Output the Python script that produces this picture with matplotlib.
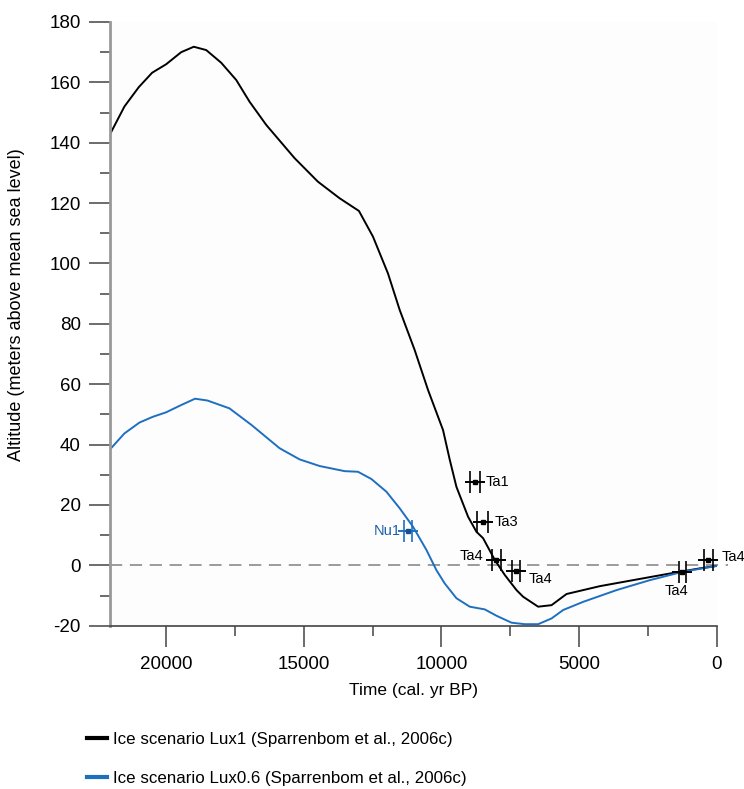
import matplotlib.pyplot as plt
from matplotlib.lines import Line2D
from matplotlib.ticker import MultipleLocator

plt.rcParams['font.family'] = ['Liberation Sans', 'DejaVu Sans']
plt.rcParams['axes.unicode_minus'] = False

# Ice scenario Lux1 (black)
lux1_t = [22040, 21516, 20996, 20509, 20000, 19455, 18996, 18545, 18000, 17455,
          16971, 16364, 15335, 14487, 13698, 12996, 12487, 11942, 11516, 10971,
          10487, 9941, 9698, 9455, 9032, 8727, 8487, 8062, 7698, 7273, 7033,
          6487, 6000, 5455, 4244, 3033, 1818, 607, 0]
lux1_h = [142.8, 152.0, 158.4, 163.2, 166.0, 170.0, 171.8, 170.7, 166.5, 160.8,
          153.6, 145.9, 134.9, 127.1, 121.6, 117.4, 108.9, 96.7, 84.6, 71.3,
          58.1, 44.8, 35.0, 26.0, 16.1, 11.1, 9.0, 1.8, -3.2, -8.2, -10.4,
          -13.7, -13.2, -9.5, -6.9, -4.9, -2.9, -1.0, -0.2]

# Ice scenario Lux0.6 (blue)
lux06_t = [22040, 21516, 20970, 20485, 20000, 19455, 18950, 18500, 17700, 16900,
           15880, 15153, 14425, 13516, 13033, 12545, 12000, 11516, 11033, 10545,
           10182, 9880, 9455, 8971, 8425, 8000, 7455, 6971, 6487, 6000, 5578,
           4851, 3636, 2425, 1215, 0]
lux06_h = [38.4, 43.7, 47.3, 49.2, 50.7, 53.1, 55.2, 54.6, 52.0, 46.5,
           38.8, 35.1, 32.9, 31.2, 31.0, 28.6, 24.4, 18.9, 12.8, 5.1,
           -1.6, -6.0, -10.9, -13.7, -14.6, -16.7, -19.0, -19.5, -19.5, -17.6, -14.8,
           -12.1, -8.2, -4.9, -2.1, -0.2]

# dated samples (age, altitude, age error)
ta_t = [8780, 8500, 8000, 7300, 1250, 305]
ta_h = [27.7, 14.2, 1.8, -1.9, -2.1, 1.8]
ta_err = [190, 200, 150, 150, 130, 160]
ta_lab = ['Ta1', 'Ta3', 'Ta4', 'Ta4', 'Ta4', 'Ta4']
ta_lab_xy = [(8389, 27.7, 'left'), (8062, 14.2, 'left'), (8498, 3.2, 'right'),
             (6825, -4.5, 'left'), (1480, -8.5, 'center'), (-182, 2.8, 'left')]

nu_t = [11215]
nu_h = [11.5]
nu_err = [150]

blue = '#1f6fc1'

fig = plt.figure(figsize=(7.44, 7.89), dpi=100)
ax = fig.add_axes([110 / 744, 1 - 625.7 / 789, (716.7 - 110) / 744, (625.7 - 22) / 789])

ax.plot([22040, -400], [0, 0], color='#808080', lw=1.1, dashes=(8, 5), clip_on=False)
l1, = ax.plot(lux1_t, lux1_h, color='black', lw=1.4)
l2, = ax.plot(lux06_t, lux06_h, color=blue, lw=1.4)

ax.errorbar(ta_t, ta_h, xerr=ta_err, fmt='none', ecolor='black', elinewidth=1.2,
            capsize=8, capthick=1.2)
ax.plot(ta_t, ta_h, ls='none', marker='_', ms=14, mew=1.4, color='black')
ax.plot(ta_t, ta_h, ls='none', marker='s', ms=3, color='black')
for (x, y, ha), lab in zip(ta_lab_xy, ta_lab):
    ax.text(x, y, lab, ha=ha, va='center', fontsize=10.5, color='black', clip_on=False)

ax.errorbar(nu_t, nu_h, xerr=nu_err, fmt='none', ecolor=blue, elinewidth=1.2,
            capsize=8, capthick=1.2)
ax.plot(nu_t, nu_h, ls='none', marker='_', ms=14, mew=1.4, color=blue)
ax.plot(nu_t, nu_h, ls='none', marker='s', ms=3, color='#174f8c')
ax.text(11491, 11.5, 'Nu1', ha='right', va='center', fontsize=10.5, color='#1f5fa8')

ax.set_xlim(22040, 0)
ax.set_ylim(-20, 180)
ax.xaxis.set_major_locator(MultipleLocator(5000))
ax.xaxis.set_minor_locator(MultipleLocator(2500))
ax.yaxis.set_major_locator(MultipleLocator(20))
ax.yaxis.set_minor_locator(MultipleLocator(10))

for s in ['top', 'right']:
    ax.spines[s].set_visible(False)
ax.spines['left'].set_color('#999999')
ax.spines['left'].set_linewidth(2)
ax.spines['bottom'].set_color('#444444')
ax.spines['bottom'].set_linewidth(1.2)
ax.tick_params(which='major', length=15, width=1.1, color='#444444', labelsize=13.5)
ax.tick_params(which='minor', length=7.5, width=1.1, color='#444444')
ax.tick_params(axis='x', which='major', pad=7)
ax.tick_params(axis='y', which='major', pad=6)
ax.set_facecolor('#fdfdfd')

ax.set_xlabel('Time (cal. yr BP)', fontsize=12.5, labelpad=7)
fig.text(17 / 744, 1 - 305 / 789, 'Altitude (meters above mean sea level)',
         rotation=90, ha='center', va='center', fontsize=13)

h1 = Line2D([], [], color='black', lw=3)
h2 = Line2D([], [], color=blue, lw=3)
fig.legend([h1, h2], ['Ice scenario Lux1 (Sparrenbom et al., 2006c)',
                      'Ice scenario Lux0.6 (Sparrenbom et al., 2006c)'],
           loc='upper left', bbox_to_anchor=(87 / 744, 1 - 732 / 789),
           frameon=False, fontsize=12.2, handlelength=1.2, handletextpad=0.35,
           labelspacing=1.4, borderpad=0, borderaxespad=0)

fig.savefig('out.png', dpi=100)
